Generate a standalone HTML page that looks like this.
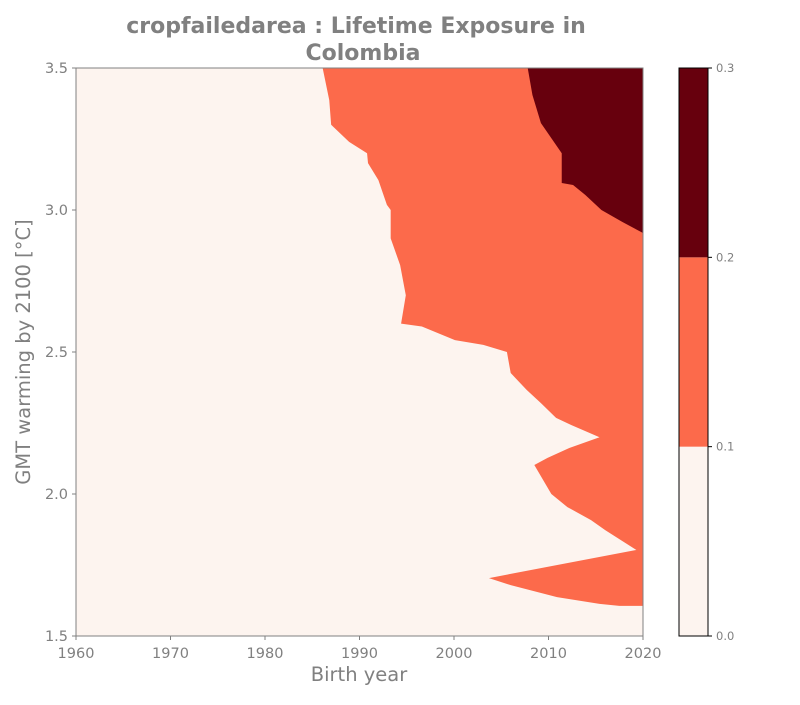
<!DOCTYPE html>
<html><head><meta charset="utf-8"><style>
body{margin:0;background:#fff;}
svg text{font-family:"DejaVu Sans","Liberation Sans",sans-serif;fill:#808080;}
</style></head><body>
<svg id="c" width="800" height="700">
<text x="356" y="33" font-size="22" font-weight="bold" text-anchor="middle">cropfailedarea : Lifetime Exposure in</text>
<text x="363" y="60" font-size="22" font-weight="bold" text-anchor="middle">Colombia</text>
<g id="plot"></g>
<text x="359" y="681" font-size="19.5" text-anchor="middle">Birth year</text>
<text x="30" y="352" font-size="19.5" text-anchor="middle" transform="rotate(-90 30 352)">GMT warming by 2100 [°C]</text>
</svg>
<script>
const xTicks=[1960,1970,1980,1990,2000,2010,2020];
const yTicks=[1.5,2.0,2.5,3.0,3.5];
const levels=[0.0,0.1,0.2,0.3];
const levelColors=["#fdf4ef","#fc6a4b","#67000d"];
const midYears=[1986.1,1986.8,1987.0,1988.9,1990.8,1990.9,1992.0,1992.9,1993.3,1993.3,1994.3,1994.9,1994.4,1996.6,2000.1,2003.1,2005.6,2006.0,2007.7,2009.2,2010.8,2012.4,2015.4,2012.2,2009.9,2008.5,2010.3,2012.0,2014.5,2016.0,2019.3,2003.7,2006.0,2010.9,2015.4,2017.5,2020];
const midGmt=[3.5,3.387,3.30,3.24,3.20,3.165,3.105,3.018,3.0,2.90,2.806,2.70,2.60,2.59,2.542,2.525,2.50,2.426,2.366,2.32,2.268,2.243,2.20,2.162,2.127,2.102,2.0,1.954,1.908,1.873,1.803,1.704,1.679,1.637,1.613,1.606,1.606];
const highYears=[2007.8,2008.3,2009.2,2011.4,2011.4,2012.6,2013.9,2015.6,2017.8,2020];
const highGmt=[3.5,3.405,3.306,3.20,3.095,3.088,3.053,3.0,2.958,2.919];
const L=76,R=643,T=68,B=636;
const sx=v=>L+(v-1960)/60*(R-L);
const sy=v=>B-(v-1.5)/2*(B-T);
const NS="http://www.w3.org/2000/svg";
const g=document.getElementById('plot');
function mk(t,a){const e=document.createElementNS(NS,t);for(const k in a)e.setAttribute(k,a[k]);g.appendChild(e);return e;}
const bg=mk('rect',{x:L,y:T,width:R-L,height:B-T,fill:levelColors[0]});


let p=midYears.map((y,i)=>sx(y)+','+sy(midGmt[i]));p.push(sx(2020)+','+sy(3.5));
const mid=mk('polygon',{points:p.join(' '),fill:levelColors[1]});


let q=highYears.map((y,i)=>sx(y)+','+sy(highGmt[i]));q.push(sx(2020)+','+sy(3.5));
const hi=mk('polygon',{points:q.join(' '),fill:levelColors[2]});


const fr=mk('rect',{x:L,y:T,width:R-L,height:B-T,fill:'none',stroke:'#808080','stroke-width':1});


xTicks.forEach(v=>{const x=sx(v);mk('line',{x1:x,x2:x,y1:B,y2:B+4,stroke:'#808080'});
const t=mk('text',{x:x,y:B+22,'font-size':14.5,'text-anchor':'middle'});t.textContent=v;

});
yTicks.forEach(v=>{const y=sy(v);mk('line',{x1:L-4,x2:L,y1:y,y2:y,stroke:'#808080'});
const t=mk('text',{x:L-8,y:y+5,'font-size':14.5,'text-anchor':'end'});t.textContent=v.toFixed(1);

});
const CL=679,CR=708;
const cy=v=>B-(v-levels[0])/(levels[levels.length-1]-levels[0])*(B-T);
const cbH=(B-T)/3;
for(let i=0;i<3;i++){const r=mk('rect',{x:CL,y:B-(i+1)*cbH,width:CR-CL,height:cbH,fill:levelColors[i]});

}
const cf=mk('rect',{x:CL,y:T,width:CR-CL,height:B-T,fill:'none',stroke:'#000','stroke-width':1});


levels.forEach(v=>{const y=cy(v);mk('line',{x1:CR,x2:CR+4,y1:y,y2:y,stroke:'#000'});
const t=mk('text',{x:CR+8,y:y+4,'font-size':11.5});t.textContent=v.toFixed(1);

});
</script>
</body></html>
